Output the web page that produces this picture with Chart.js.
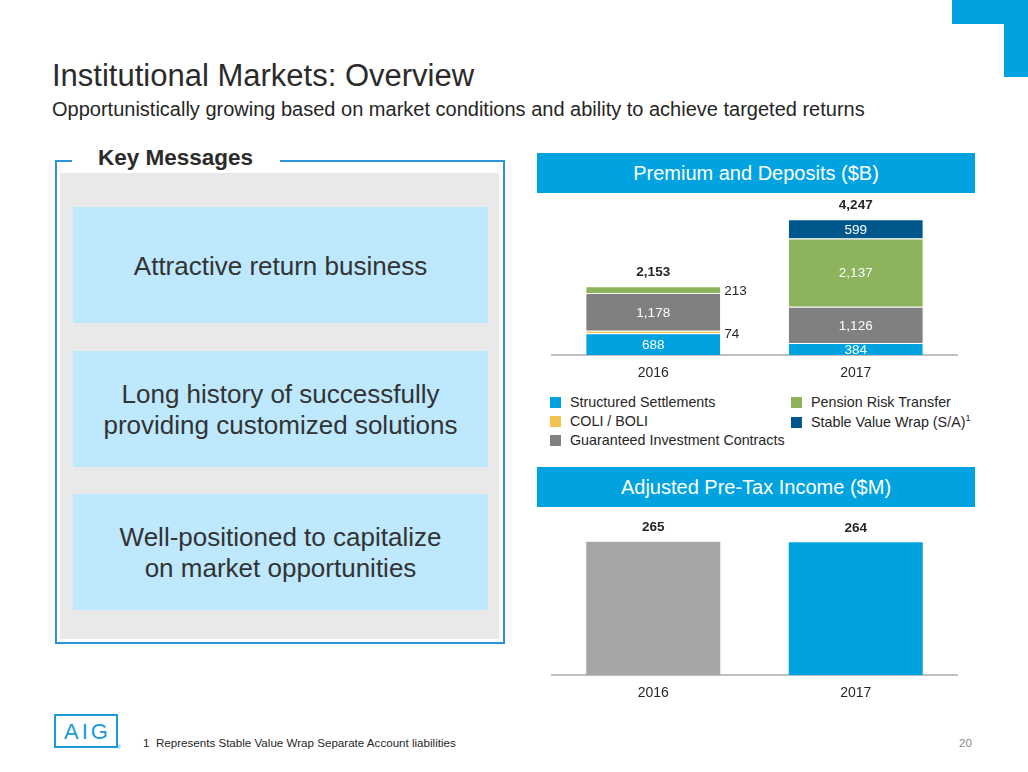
<!DOCTYPE html>
<html>
<head>
<meta charset="utf-8">
<script src="https://cdn.jsdelivr.net/npm/chart.js@4.4.1/dist/chart.umd.min.js"></script>
<style>
  html, body { margin: 0; padding: 0; background: #fff; }
  body { width: 1028px; height: 772px; position: relative; overflow: hidden;
         font-family: "Liberation Sans", Arial, sans-serif; color: #262626; }
  .abs { position: absolute; }
  .title { left: 52px; top: 60px; font-size: 31px; line-height: 31px; color: #2b2b2b; white-space: nowrap; }
  .subtitle { left: 52px; top: 99px; font-size: 20px; line-height: 20px; color: #262626; white-space: nowrap; }
  .panel { left: 55px; top: 160px; width: 446px; height: 480px; border: 2px solid #2b94d4; }
  .panel-label { left: 72px; top: 145px; width: 182px; padding-left: 26px; background: #fff;
                 font-size: 22.5px; font-weight: bold; line-height: 26px; color: #2b2b2b; }
  .panel-fill { left: 60px; top: 173px; width: 439px; height: 466px; background: #e9e9e9; }
  .msg { left: 73px; width: 415px; height: 116px; background: #bde8fd; display: flex;
         align-items: center; justify-content: center; text-align: center;
         font-size: 26px; line-height: 31px; color: #333; padding-top: 2px; box-sizing: border-box; }
  .head { left: 537px; width: 438px; height: 40px; background: #00a3e0; color: #fff;
          font-size: 20px; display: flex; align-items: center; justify-content: center; }
  .legend { left: 550px; top: 394px; display: grid; grid-template-rows: repeat(3, 19px);
            grid-auto-flow: column; grid-template-columns: 241px 200px; font-size: 14.3px; color: #262626; }
  .legend span.sw { display: inline-block; width: 11px; height: 11px; margin-right: 9px; vertical-align: -1px; }
  .legend sup { font-size: 9px; }
  .logo { left: 54px; top: 714px; width: 60px; height: 30px; border: 2px solid #1a9ad6;
          color: #1a9ad6; font-size: 22px; line-height: 31px; text-align: center; letter-spacing: 3px;
          text-indent: 3px; }
  .reg { left: 117px; top: 744px; font-size: 5px; color: #1a9ad6; }
  .foot { left: 143px; top: 736px; font-size: 11.6px; color: #262626; white-space: nowrap; }
  .page { left: 959px; top: 736px; font-size: 11.6px; color: #8a8a8a; }
</style>
</head>
<body>
<div class="abs" style="left:952px;top:0;width:76px;height:24px;background:#00a3e0"></div>
<div class="abs" style="left:1004px;top:0;width:24px;height:77px;background:#00a3e0"></div>

<div class="abs title">Institutional Markets: Overview</div>
<div class="abs subtitle">Opportunistically growing based on market conditions and ability to achieve targeted returns</div>

<div class="abs panel"></div>
<div class="abs panel-fill"></div>
<div class="abs panel-label">Key Messages</div>
<div class="abs msg" style="top:207px">Attractive return business</div>
<div class="abs msg" style="top:351px">Long history of successfully<br>providing customized solutions</div>
<div class="abs msg" style="top:494px">Well-positioned to capitalize<br>on market opportunities</div>

<div class="abs head" style="top:153px">Premium and Deposits ($B)</div>
<canvas id="premiumChart" class="abs" style="left:537px;top:196px" width="438" height="196"></canvas>
<div id="premiumLegend" class="abs legend"></div>

<div class="abs head" style="top:467px">Adjusted Pre-Tax Income ($M)</div>
<canvas id="incomeChart" class="abs" style="left:537px;top:510px" width="438" height="202"></canvas>

<div class="abs logo">AIG</div>
<div class="abs reg">®</div>
<div class="abs foot">1&nbsp; Represents Stable Value Wrap Separate Account liabilities</div>
<div class="abs page">20</div>

<script>
// chart data
const years = ['2016', '2017'];
const seriesNames = ['Structured Settlements', 'COLI / BOLI', 'Guaranteed Investment Contracts', 'Pension Risk Transfer', 'Stable Value Wrap (S/A)'];
const seriesNotes = ['', '', '', '', '1'];
const seriesColors = ['#00a3e0', '#f4c24e', '#808080', '#8db35d', '#00578b'];
const structuredSettlements = [688, 384];
const coliBoli = [74, 0];
const guaranteedContracts = [1178, 1126];
const pensionRiskTransfer = [213, 2137];
const stableValueWrap = [0, 599];
const premiumTotals = [2153, 4247];
const pretaxIncome = [265, 264];
const incomeColors = ['#a6a6a6', '#00a3e0'];

Chart.defaults.font.family = '"Liberation Sans", Arial, sans-serif';
Chart.defaults.color = '#262626';

function fmt(v) {
  return v.toLocaleString('en-US');
}

// draws the numbers on and above the bars
const barLabels = {
  id: 'barLabels',
  afterDatasetsDraw(chart, args, opts) {
    const ctx = chart.ctx;
    ctx.save();
    ctx.textBaseline = 'middle';
    const tops = [];
    chart.data.datasets.forEach(function (ds, i) {
      const meta = chart.getDatasetMeta(i);
      meta.data.forEach(function (bar, j) {
        const v = ds.data[j];
        if (!v) return;
        tops[j] = tops[j] === undefined ? bar.y : Math.min(tops[j], bar.y);
        if (!opts.inside) return;
        const h = bar.base - bar.y;
        ctx.font = '13.5px "Liberation Sans", Arial, sans-serif';
        if (h >= 10) {
          ctx.fillStyle = '#ffffff';
          ctx.textAlign = 'center';
          ctx.fillText(fmt(v), bar.x, (bar.y + bar.base) / 2 + 1);
        } else {
          ctx.fillStyle = '#262626';
          ctx.textAlign = 'left';
          ctx.fillText(fmt(v), bar.x + bar.width / 2 + 4, (bar.y + bar.base) / 2 + 2);
        }
      });
    });
    ctx.font = 'bold 13.5px "Liberation Sans", Arial, sans-serif';
    ctx.fillStyle = '#262626';
    ctx.textAlign = 'center';
    const meta0 = chart.getDatasetMeta(0);
    opts.totals.forEach(function (t, j) {
      ctx.fillText(fmt(t), meta0.data[j].x, tops[j] - 14);
    });
    ctx.restore();
  }
};

function xAxis() {
  return {
    stacked: true,
    offset: true,
    grid: { display: false, drawTicks: false },
    border: { display: true, color: '#c0c0c0', width: 2 },
    ticks: { color: '#262626', font: { size: 14 }, padding: 10 }
  };
}

const premiumSeries = [structuredSettlements, coliBoli, guaranteedContracts, pensionRiskTransfer, stableValueWrap];

new Chart(document.getElementById('premiumChart'), {
  type: 'bar',
  data: {
    labels: years,
    datasets: premiumSeries.map(function (vals, i) {
      return {
        label: seriesNames[i],
        data: vals,
        backgroundColor: seriesColors[i],
        borderColor: '#ffffff',
        borderWidth: { top: 1, left: 0, right: 0, bottom: 0 },
        borderSkipped: false,
        barPercentage: 0.662,
        categoryPercentage: 1
      };
    })
  },
  options: {
    responsive: false,
    animation: false,
    layout: { padding: { left: 15, right: 18, top: 0, bottom: 0 } },
    plugins: {
      legend: { display: false },
      tooltip: { enabled: false },
      barLabels: { inside: true, totals: premiumTotals }
    },
    scales: {
      x: xAxis(),
      y: { stacked: true, display: false, min: 0, max: 4970 }
    }
  },
  plugins: [barLabels]
});

new Chart(document.getElementById('incomeChart'), {
  type: 'bar',
  data: {
    labels: years,
    datasets: [{
      label: 'Adjusted Pre-Tax Income ($M)',
      data: pretaxIncome,
      backgroundColor: incomeColors,
      barPercentage: 0.662,
      categoryPercentage: 1
    }]
  },
  options: {
    responsive: false,
    animation: false,
    layout: { padding: { left: 15, right: 18, top: 0, bottom: 0 } },
    plugins: {
      legend: { display: false },
      tooltip: { enabled: false },
      barLabels: { inside: false, totals: pretaxIncome }
    },
    scales: {
      x: xAxis(),
      y: { display: false, min: 0, max: 328 }
    }
  },
  plugins: [barLabels]
});

// legend laid out in two columns like the slide
const legendBox = document.getElementById('premiumLegend');
seriesNames.forEach(function (name, i) {
  const item = document.createElement('div');
  item.innerHTML = '<span class="sw" style="background:' + seriesColors[i] + '"></span>' + name +
    (seriesNotes[i] ? '<sup>' + seriesNotes[i] + '</sup>' : '');
  legendBox.appendChild(item);
});
</script>
</body>
</html>
